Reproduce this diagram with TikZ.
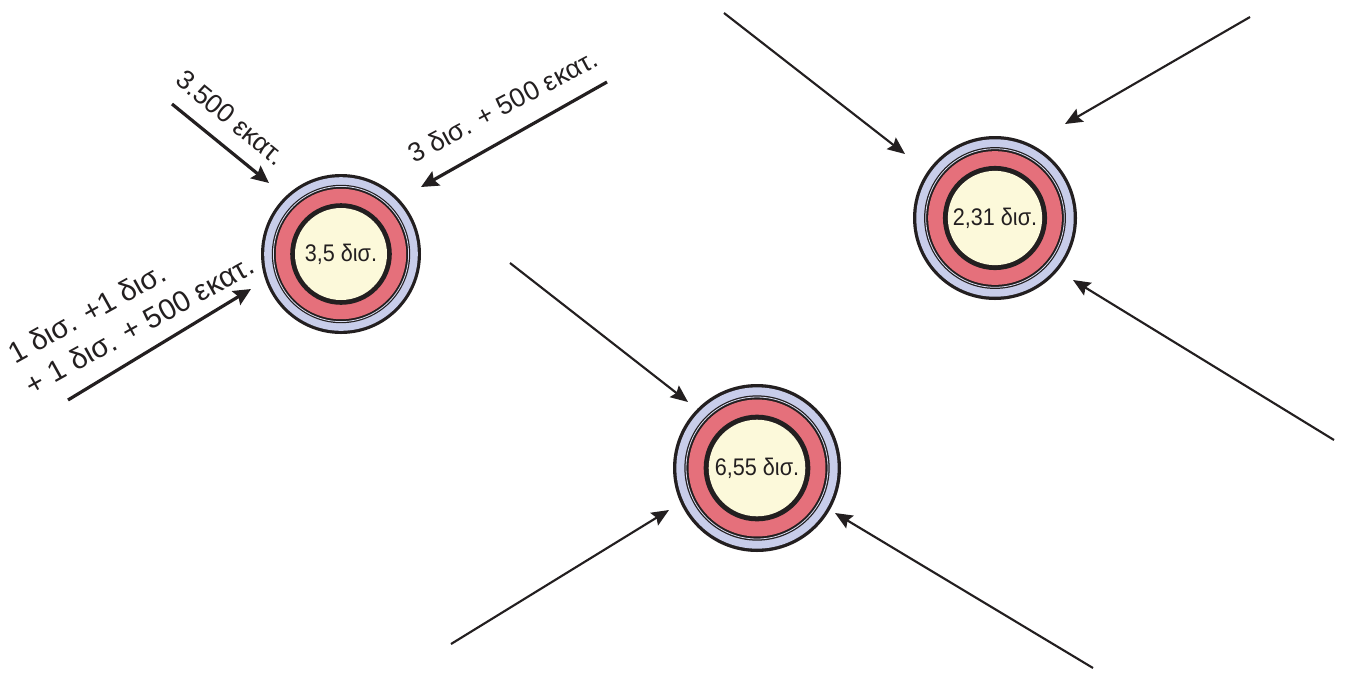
\documentclass[tikz,border=0pt]{standalone}
\usepackage{fontspec}
\setmainfont{Liberation Sans}
\newfontfamily\narrowfont{Liberation Sans}[FakeStretch=0.9]
\usetikzlibrary{arrows.meta}
\definecolor{ink}{HTML}{231F20}
\definecolor{ringblue}{HTML}{C8CDEA}
\definecolor{ringred}{HTML}{E5707B}
\definecolor{cream}{HTML}{FCF9DA}

\begin{document}
\begin{tikzpicture}[x=.75pt,y=-.75pt,
  thickarr/.style={ink,line width=2.4pt,-{Stealth[length=13pt,width=12pt,inset=2pt]}},
  thinarr/.style={ink,line width=1.6pt,-{Stealth[length=13pt,width=11pt,inset=2pt]}},
  lbl/.style={ink,font=\fontsize{20}{27}\selectfont,inner sep=0pt},
  celltxt/.style={ink,font=\narrowfont\fontsize{18}{20}\selectfont,inner sep=0pt}]
  \useasboundingbox (0,0) rectangle (1345,672);
  % the three rings
  \foreach \n/\p/\r/\t in {c1/{341,254}/80/{3,5 δισ.},c2/{995,218}/82/{2,31 δισ.},c3/{757,468}/84/{6,55 δισ.}}{
    \fill[ink] (\p) circle (\r);
    \fill[ringblue] (\p) circle (0.96*\r);
    \fill[ink] (\p) circle (0.865*\r);
    \draw[ringblue!70,line width=.6pt] (\p) circle (0.845*\r);
    \fill[ringred] (\p) circle (0.815*\r);
    \fill[ink] (\p) circle (0.635*\r);
    \fill[cream] (\p) circle (0.575*\r);
    \node[celltxt] (\n) at (\p) {\t};
  }
  % inputs of the first ring
  \foreach \i/\s/\e in {1/{172,104}/{269,183},2/{607,82}/{421,187},3/{68,400}/{251,289}}{
    \coordinate (s\i) at (\s);
    \coordinate (e\i) at (\e);
    \draw[thickarr] (s\i) -- (e\i);
  }
  \node[lbl,rotate=-39.5] (l1) at (231,118) {3.500 εκατ.};
  \node[lbl,rotate=28] (l2) at (503,106) {3 δισ. + 500 εκατ.};
  \node[lbl,rotate=29,align=left,font=\fontsize{22}{27}\selectfont] (l3) at (131,309) {1 δισ. +1 δισ.\\+ 1 δισ. + 500 εκατ.};
  % the other arrows
  \foreach \i/\s/\e in {4/{724,13}/{905,154},5/{1250,17}/{1065,124},6/{1334,440}/{1073,280},
    7/{451,644}/{669,510},8/{510,263}/{688,402},9/{1093,668}/{835,513}}{
    \coordinate (s\i) at (\s);
    \coordinate (e\i) at (\e);
    \draw[thinarr] (s\i) -- (e\i);
  }
\end{tikzpicture}
\end{document}
